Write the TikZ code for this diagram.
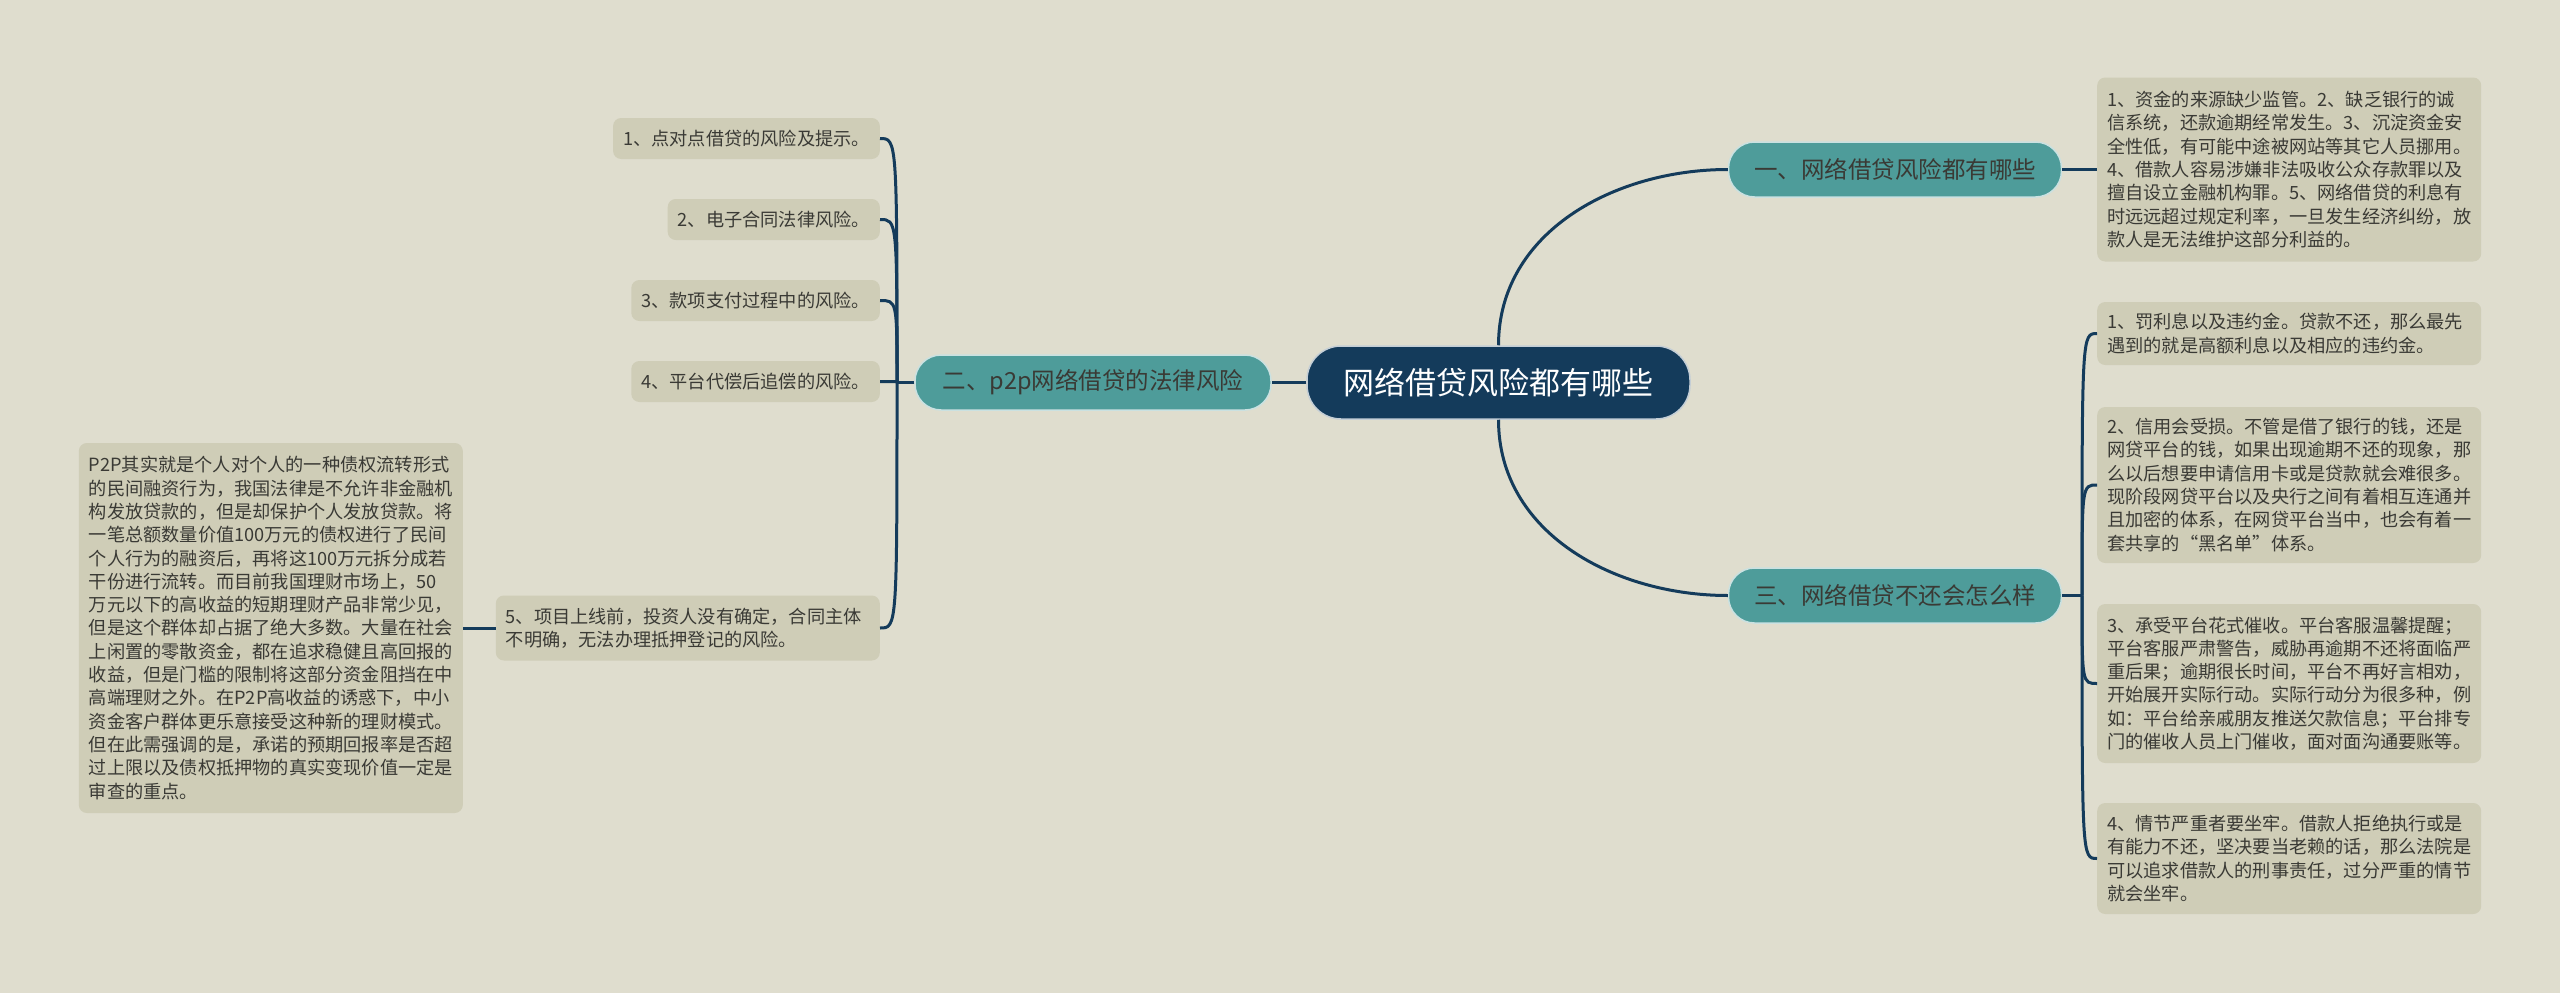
\documentclass[tikz,border=0pt]{standalone}
\usepackage{fontspec}
\newfontfamily\cjk{Noto Sans CJK SC}
\definecolor{bg}{HTML}{DFDDCE}
\definecolor{leaffill}{HTML}{CFCDB7}
\definecolor{branchcol}{HTML}{4E9C9A}
\definecolor{navy}{HTML}{143B5B}
\definecolor{ink}{HTML}{3A3A35}
\begin{document}
\begin{tikzpicture}[
        x=1pt, y=1pt,
        every node/.style={font=\cjk, text=ink},
        root/.style={fill=navy, draw=white!75!navy, line width=1.5pt, rounded corners=34pt,
            minimum width=383pt, minimum height=73pt, text=white, font=\cjk\fontsize{31}{36}\selectfont},
        branch/.style={fill=branchcol, draw=white!70!branchcol, line width=1.5pt, rounded corners=26pt,
            minimum height=55pt, font=\cjk\fontsize{23.5}{28}\selectfont},
        leaf/.style={fill=leaffill, rounded corners=8pt, inner xsep=10pt, inner ysep=0pt,
            font=\cjk\fontsize{18.2}{23.3}\selectfont},
        para/.style={leaf, text width=364pt, align=left},
        link/.style={draw=navy, line width=3pt},
    ]
    \useasboundingbox (0,0) rectangle (2560,-993);
    \fill[bg] (0,0) rectangle (2560,-993);

    \node[root](root) at (1498.5,-382.5){网络借贷风险都有哪些};
    \node[branch, minimum width=333pt](one) at (1895,-169.5){一、网络借贷风险都有哪些};
    \node[branch, minimum width=356pt](two) at (1093,-382.5){二、p2p网络借贷的法律风险};
    \node[branch, minimum width=333pt](three) at (1895,-595.5){三、网络借贷不还会怎么样};

    \node[para, anchor=west, minimum height=184pt](one1) at (2097,-169.5){1、资金的来源缺少监管。2、缺乏银行的诚\\
        信系统，还款逾期经常发生。3、沉淀资金安\\
        全性低，有可能中途被网站等其它人员挪用。\\
        4、借款人容易涉嫌非法吸收公众存款罪以及\\
        擅自设立金融机构罪。5、网络借贷的利息有\\
        时远远超过规定利率，一旦发生经济纠纷，放\\
        款人是无法维护这部分利益的。};

    \node[para, anchor=west, minimum height=63pt](three1) at (2097,-333.5){1、罚利息以及违约金。贷款不还，那么最先\\
        遇到的就是高额利息以及相应的违约金。};
    \node[para, anchor=west, minimum height=156pt](three2) at (2097,-485){2、信用会受损。不管是借了银行的钱，还是\\
        网贷平台的钱，如果出现逾期不还的现象，那\\
        么以后想要申请信用卡或是贷款就会难很多。\\
        现阶段网贷平台以及央行之间有着相互连通并\\
        且加密的体系，在网贷平台当中，也会有着一\\
        套共享的“黑名单”体系。};
    \node[para, anchor=west, minimum height=159pt](three3) at (2097,-683.5){3、承受平台花式催收。平台客服温馨提醒；\\
        平台客服严肃警告，威胁再逾期不还将面临严\\
        重后果；逾期很长时间，平台不再好言相劝，\\
        开始展开实际行动。实际行动分为很多种，例\\
        如：平台给亲戚朋友推送欠款信息；平台排专\\
        门的催收人员上门催收，面对面沟通要账等。};
    \node[para, anchor=west, minimum height=111pt](three4) at (2097,-858.5){4、情节严重者要坐牢。借款人拒绝执行或是\\
        有能力不还，坚决要当老赖的话，那么法院是\\
        可以追求借款人的刑事责任，过分严重的情节\\
        就会坐牢。};

    \node[leaf, anchor=east, minimum height=41pt](two1) at (880,-138.5){1、点对点借贷的风险及提示。};
    \node[leaf, anchor=east, minimum height=41pt](two2) at (880,-219.5){2、电子合同法律风险。};
    \node[leaf, anchor=east, minimum height=41pt](two3) at (880,-300.5){3、款项支付过程中的风险。};
    \node[leaf, anchor=east, minimum height=41pt](two4) at (880,-381.5){4、平台代偿后追偿的风险。};
    \node[para, anchor=east, minimum height=65pt](two5) at (880,-628){5、项目上线前，投资人没有确定，合同主体\\
        不明确，无法办理抵押登记的风险。};

    \node[para, anchor=east, minimum height=370pt](note) at (463,-628){P2P其实就是个人对个人的一种债权流转形式\\
        的民间融资行为，我国法律是不允许非金融机\\
        构发放贷款的，但是却保护个人发放贷款。将\\
        一笔总额数量价值100万元的债权进行了民间\\
        个人行为的融资后，再将这100万元拆分成若\\
        干份进行流转。而目前我国理财市场上，50\\
        万元以下的高收益的短期理财产品非常少见，\\
        但是这个群体却占据了绝大多数。大量在社会\\
        上闲置的零散资金，都在追求稳健且高回报的\\
        收益，但是门槛的限制将这部分资金阻挡在中\\
        高端理财之外。在P2P高收益的诱惑下，中小\\
        资金客户群体更乐意接受这种新的理财模式。\\
        但在此需强调的是，承诺的预期回报率是否超\\
        过上限以及债权抵押物的真实变现价值一定是\\
        审查的重点。};

    \coordinate (j3) at (2082,-595.5);
    \coordinate (j2) at (897,-382.5);

    \draw[link] (root.north) to[out=90, in=180] (one.west);
    \draw[link] (root.south) to[out=-90, in=180] (three.west);
    \draw[link] (root.west) -- (two.east);
    \draw[link] (one.east) -- (one1.west);
    \draw[link] (three.east) -- (j3);
    \foreach \n in {1,...,4}
        \draw[link] (j3) .. controls (j3 |- three\n.west) .. (three\n.west);
    \draw[link] (two.west) -- (j2);
    \foreach \n in {1,...,5}
        \draw[link] (j2) .. controls (j2 |- two\n.east) .. (two\n.east);
    \draw[link] (two5.west) -- (note.east);
\end{tikzpicture}
\end{document}
